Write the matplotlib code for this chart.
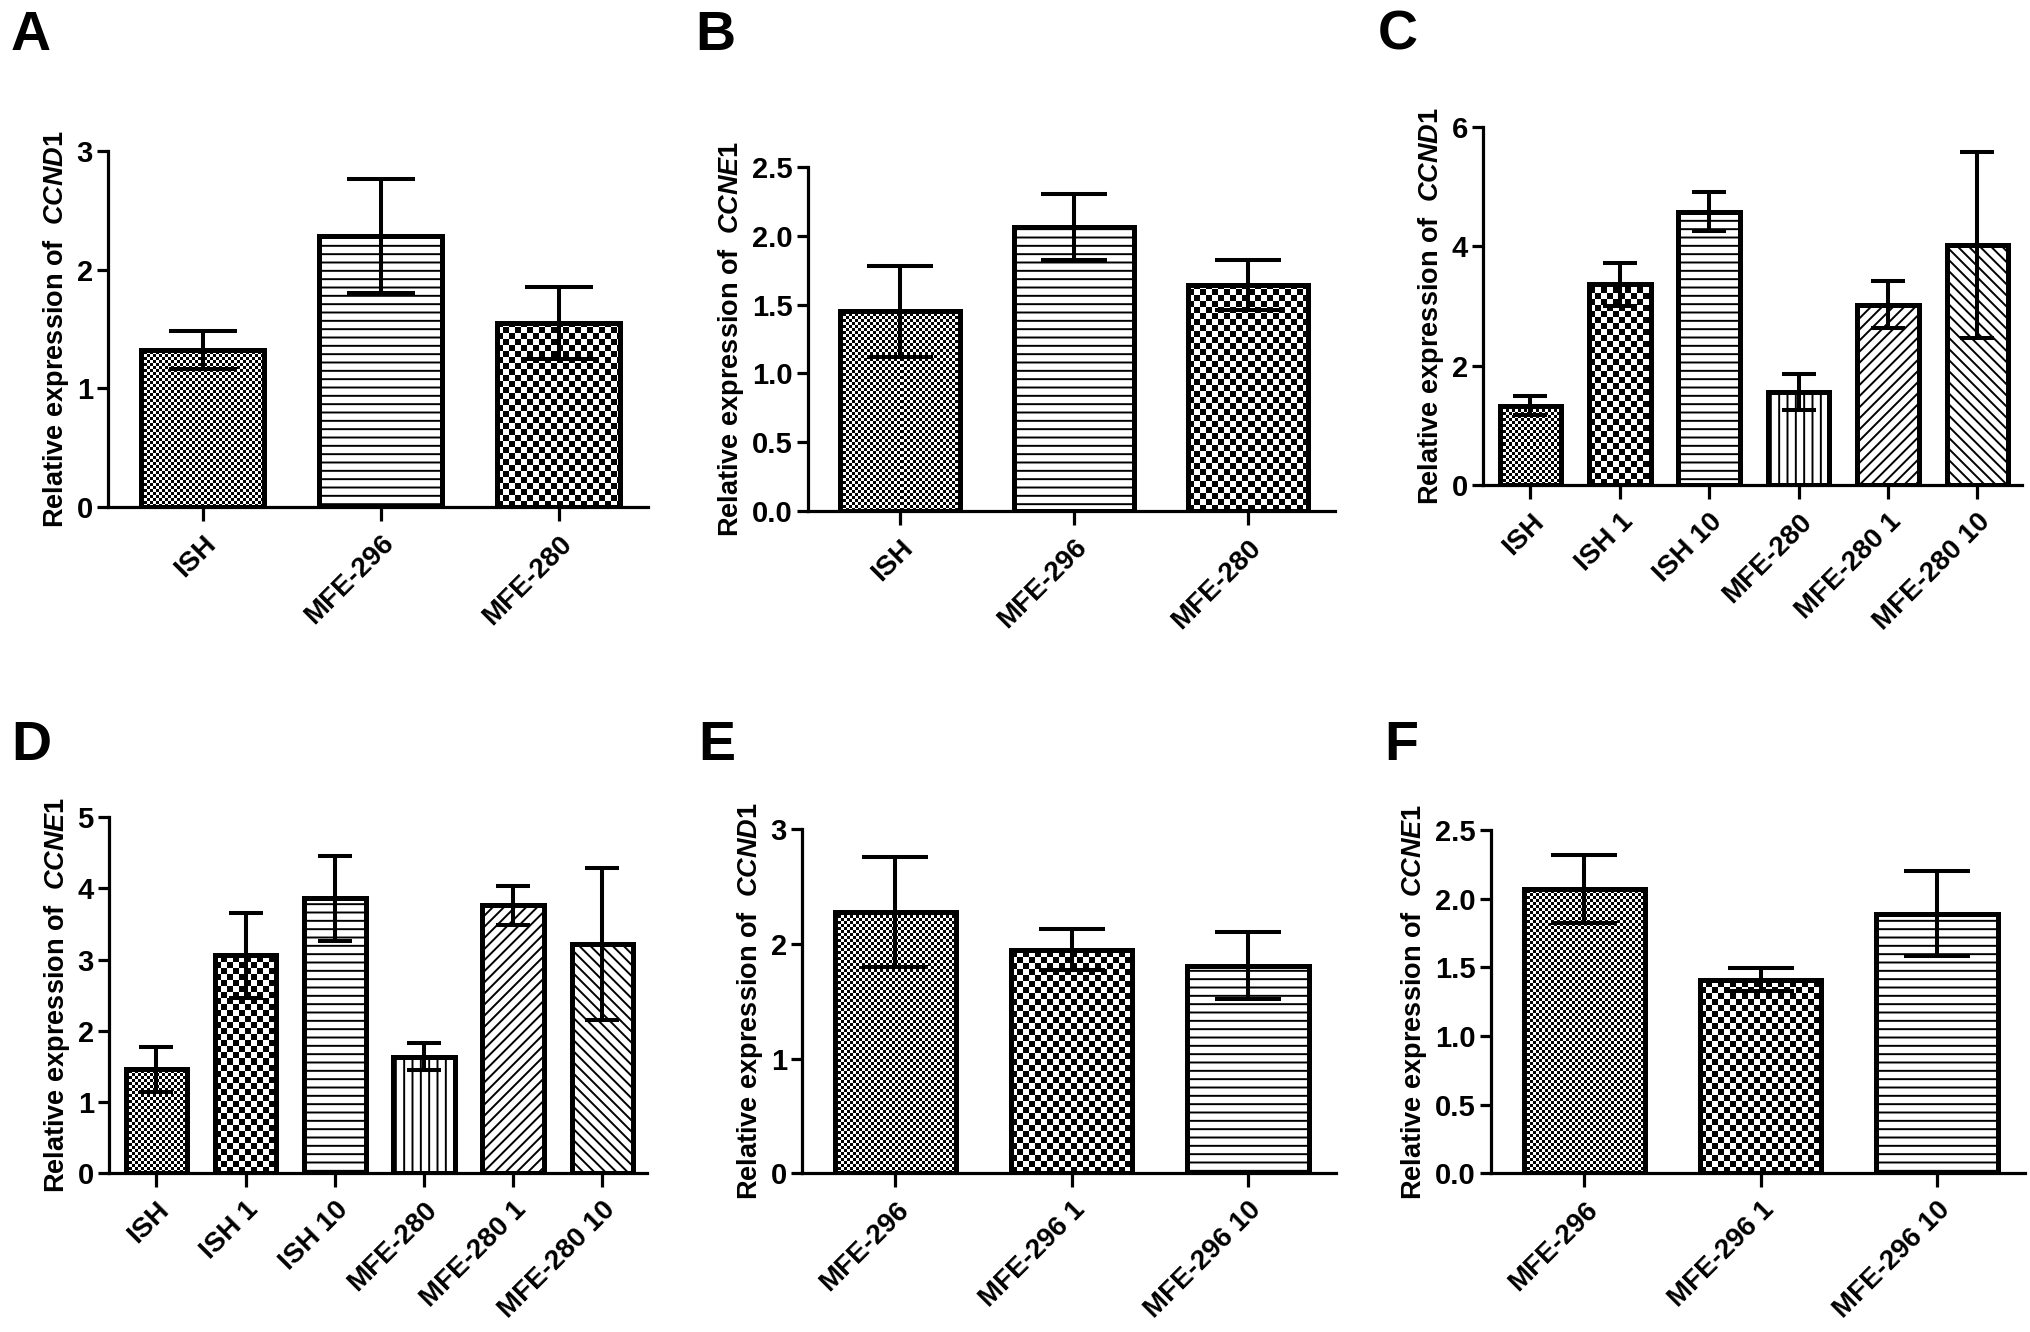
import numpy as np
import matplotlib
matplotlib.use("Agg")
import matplotlib.pyplot as plt

plt.rcParams['font.family'] = ['Liberation Sans', 'DejaVu Sans']
plt.rcParams['mathtext.fontset'] = 'custom'
plt.rcParams['mathtext.rm'] = 'Liberation Sans:bold'
plt.rcParams['mathtext.it'] = 'Liberation Sans:italic:bold'
plt.rcParams['hatch.linewidth'] = 1.4

# ---- data (mean, SEM) ----
a_labels = ['ISH', 'MFE-296', 'MFE-280']
a_mean = [1.32, 2.28, 1.55]
a_sem = [0.16, 0.48, 0.30]

b_labels = ['ISH', 'MFE-296', 'MFE-280']
b_mean = [1.45, 2.06, 1.64]
b_sem = [0.33, 0.24, 0.18]

c_labels = ['ISH', 'ISH 1', 'ISH 10', 'MFE-280', 'MFE-280 1', 'MFE-280 10']
c_mean = [1.33, 3.36, 4.58, 1.56, 3.02, 4.02]
c_sem = [0.16, 0.36, 0.33, 0.30, 0.39, 1.56]

d_labels = ['ISH', 'ISH 1', 'ISH 10', 'MFE-280', 'MFE-280 1', 'MFE-280 10']
d_mean = [1.46, 3.06, 3.86, 1.64, 3.76, 3.22]
d_sem = [0.32, 0.60, 0.60, 0.19, 0.27, 1.06]

e_labels = ['MFE-296', 'MFE-296 1', 'MFE-296 10']
e_mean = [2.28, 1.95, 1.81]
e_sem = [0.48, 0.18, 0.29]

f_labels = ['MFE-296', 'MFE-296 1', 'MFE-296 10']
f_mean = [2.07, 1.41, 1.89]
f_sem = [0.245, 0.085, 0.31]

# fill styles
pat_three_a = ['fine', 'hline', 'coarse']
pat_six = ['fine', 'coarse', 'hline', 'vline', 'fwd', 'back']
pat_three_e = ['fine', 'coarse', 'hline']
hatches = {'hline': '--', 'vline': '||', 'fwd': '///', 'back': '\\\\\\'}
cells = {'fine': 3, 'coarse': 6}

W, H = 2031, 1332
fig = plt.figure(figsize=(W / 100, H / 100), dpi=100)


def checker(ax, bar, cell):
    x0, y0 = bar.get_x(), bar.get_y()
    w, h = bar.get_width(), bar.get_height()
    p0 = ax.transData.transform((x0, y0))
    p1 = ax.transData.transform((x0 + w, y0 + h))
    nx = max(1, int(round(p1[0] - p0[0])))
    ny = max(1, int(round(p1[1] - p0[1])))
    grid = ((np.arange(ny)[:, None] // cell) + (np.arange(nx)[None, :] // cell)) % 2
    im = ax.imshow(grid, cmap='gray', vmin=0, vmax=1, origin='lower',
                   extent=(x0, x0 + w, y0, y0 + h), interpolation='nearest',
                   aspect='auto', zorder=2.5)
    im.set_clip_path(bar)


def panel(rect, letter, letter_xy, labels, means, sems, pats, ymax, ystep,
          gene, fmt):
    ax = fig.add_axes(rect)
    n = len(labels)
    x = np.arange(n)
    ax.set_xlim(-0.53, n - 0.5)
    ax.set_ylim(0, ymax)

    bars = ax.bar(x, means, width=0.69, color='white', edgecolor='black',
                  linewidth=0, zorder=2)
    for b, p in zip(bars, pats):
        if p in hatches:
            b.set_hatch(hatches[p])
        else:
            checker(ax, b, cells[p])
    ax.bar(x, means, width=0.69, fill=False, edgecolor='black',
           linewidth=3.6, zorder=3)

    px_unit = (ax.transData.transform((1, 0))[0] - ax.transData.transform((0, 0))[0])
    cap = 0.19 * px_unit * 72 / 100
    ax.errorbar(x, means, yerr=sems, fmt='none', ecolor='black',
                elinewidth=2.9, capsize=cap, capthick=2.9, zorder=4)

    ax.set_xlim(-0.53, n - 0.5)
    ax.set_ylim(0, ymax)
    ax.set_yticks(np.arange(0, ymax + 1e-9, ystep))
    ax.set_yticklabels([fmt.format(v) for v in np.arange(0, ymax + 1e-9, ystep)])
    ax.set_xticks(x)
    ax.set_xticklabels(labels, rotation=45, ha='right', va='top',
                       rotation_mode='anchor')
    for t in ax.get_xticklabels():
        t.set_fontweight('bold')
        t.set_fontsize(20)
    for t in ax.get_yticklabels():
        t.set_fontweight('bold')
        t.set_fontsize(21)
    ax.tick_params(axis='y', length=8, width=2.3, pad=3)
    ax.tick_params(axis='x', length=10, width=2.3, pad=7)
    for s in ['top', 'right']:
        ax.spines[s].set_visible(False)
    for s in ['left', 'bottom']:
        ax.spines[s].set_linewidth(2.3)
    ax.set_ylabel('Relative expression of  $\\mathit{' + gene + '}$',
                  fontsize=19.5, fontweight='bold', labelpad=4)
    fig.text(letter_xy[0] / W, 1 - letter_xy[1] / H, letter, fontsize=40,
             fontweight='bold', ha='left', va='top')
    return ax


panel([0.0532, 0.6194, 0.2659, 0.2673], 'A', (11, 10), a_labels, a_mean,
      a_sem, pat_three_a, 3, 1, 'CCND1', '{:.0f}')
panel([0.3978, 0.6164, 0.2595, 0.2583], 'B', (695, 10), b_labels, b_mean,
      b_sem, pat_three_a, 2.5, 0.5, 'CCNE1', '{:.1f}')
panel([0.7302, 0.6359, 0.2654, 0.2688], 'C', (1378, 10), c_labels, c_mean,
      c_sem, pat_six, 6, 2, 'CCND1', '{:.0f}')
panel([0.0537, 0.1190, 0.2649, 0.2676], 'D', (11, 720), d_labels, d_mean,
      d_sem, pat_six, 5, 1, 'CCNE1', '{:.0f}')
panel([0.3949, 0.1190, 0.2629, 0.2586], 'E', (698, 720), e_labels, e_mean,
      e_sem, pat_three_e, 3, 1, 'CCND1', '{:.0f}')
panel([0.7341, 0.1190, 0.2629, 0.2579], 'F', (1384, 720), f_labels, f_mean,
      f_sem, pat_three_e, 2.5, 0.5, 'CCNE1', '{:.1f}')

fig.savefig('out.png', dpi=100)
